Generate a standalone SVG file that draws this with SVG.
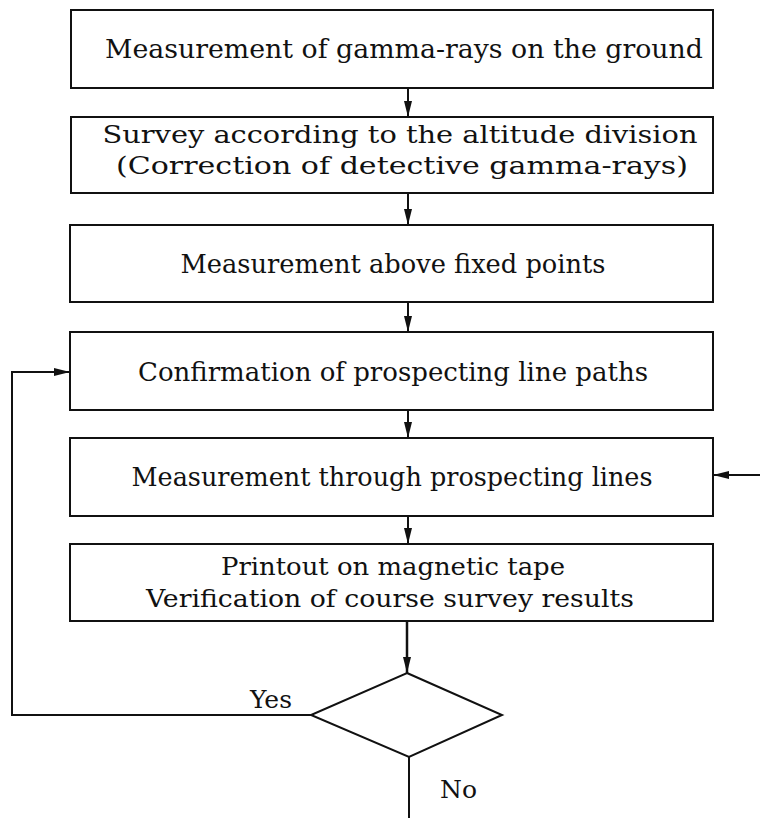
<svg xmlns="http://www.w3.org/2000/svg" width="760" height="818" viewBox="0 0 760 818">
<style>
.box{fill:#fff;stroke:#111;stroke-width:2}
.t{font-family:"DejaVu Serif","Liberation Serif",serif;font-size:26px;fill:#111;text-anchor:middle}
.t2{font-family:"DejaVu Serif","Liberation Serif",serif;font-size:25px;fill:#111;text-anchor:middle}
.l{font-family:"DejaVu Serif","Liberation Serif",serif;font-size:25px;fill:#111}
.c{fill:none;stroke:#111;stroke-width:2}
</style>
<defs>
<marker id="ah" viewBox="0 0 16 8" refX="16" refY="4" markerWidth="16" markerHeight="8" markerUnits="userSpaceOnUse" orient="auto">
<path d="M0,0 L16,4 L0,8 Z" fill="#111"/>
</marker>
</defs>
<rect width="760" height="818" fill="#fff"/>
<g id="connectors">
<line class="c" x1="408" y1="88" x2="408" y2="117" marker-end="url(#ah)"/>
<line class="c" x1="408" y1="193" x2="408" y2="225" marker-end="url(#ah)"/>
<line class="c" x1="408" y1="302" x2="408" y2="332" marker-end="url(#ah)"/>
<line class="c" x1="408" y1="410" x2="408" y2="438" marker-end="url(#ah)"/>
<line class="c" x1="408" y1="516" x2="408" y2="544" marker-end="url(#ah)"/>
<line class="c" x1="407" y1="621" x2="407" y2="673" marker-end="url(#ah)" style="stroke-width:2.5"/>
<polyline class="c" points="311,715 12,715 12,372 70,372" marker-end="url(#ah)"/>
<line class="c" x1="760" y1="475" x2="713" y2="475" marker-end="url(#ah)"/>
<line class="c" x1="409" y1="757" x2="409" y2="818"/>
<text class="l" x="250" y="708">Yes</text>
<text class="l" x="440" y="798">No</text>
</g>
<g id="n1">
<rect class="box" x="71" y="10" width="642" height="78"/>
<text class="t" x="404" y="58" textLength="598" lengthAdjust="spacingAndGlyphs">Measurement of gamma-rays on the ground</text>
</g>
<g id="n2">
<rect class="box" x="71" y="117" width="642" height="76"/>
<text class="t2" x="400" y="143" textLength="595" lengthAdjust="spacingAndGlyphs">Survey according to the altitude division</text>
<text class="t2" x="402" y="174" textLength="572" lengthAdjust="spacingAndGlyphs">(Correction of detective gamma-rays)</text>
</g>
<g id="n3">
<rect class="box" x="70" y="225" width="643" height="77"/>
<text class="t" x="393" y="273" textLength="425" lengthAdjust="spacingAndGlyphs">Measurement above fixed points</text>
</g>
<g id="n4">
<rect class="box" x="70" y="332" width="643" height="78"/>
<text class="t" x="393" y="381" textLength="510" lengthAdjust="spacingAndGlyphs">Confirmation of prospecting line paths</text>
</g>
<g id="n5">
<rect class="box" x="70" y="438" width="643" height="78"/>
<text class="t" x="392" y="486" textLength="521" lengthAdjust="spacingAndGlyphs">Measurement through prospecting lines</text>
</g>
<g id="n6">
<rect class="box" x="70" y="544" width="643" height="77"/>
<text class="t2" x="393" y="575" textLength="344" lengthAdjust="spacingAndGlyphs">Printout on magnetic tape</text>
<text class="t2" x="390" y="607" textLength="488" lengthAdjust="spacingAndGlyphs">Verification of course survey results</text>
</g>
<g id="d1">
<polygon class="box" points="407,673 502,715 409,757 311,715"/>
</g>
</svg>
